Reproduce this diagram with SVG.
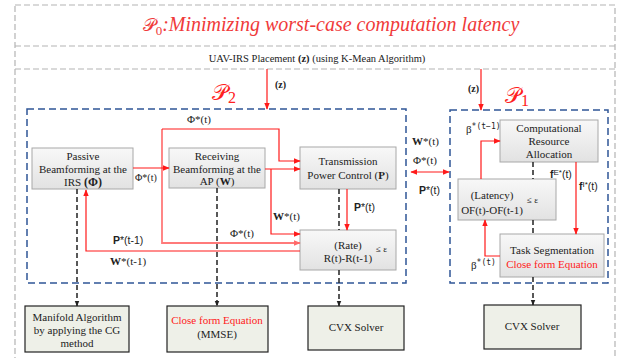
<svg xmlns="http://www.w3.org/2000/svg" width="621" height="358" viewBox="0 0 621 358" font-family="Liberation Serif, DejaVu Serif, serif">
<defs>
<linearGradient id="g" x1="0" y1="0" x2="0" y2="1"><stop offset="0" stop-color="#f8f8f8"/><stop offset="1" stop-color="#e2e2e2"/></linearGradient>
<marker id="ar" viewBox="0 0 10 10" refX="9" refY="5" markerWidth="7" markerHeight="7" markerUnits="userSpaceOnUse" orient="auto-start-reverse"><path d="M0,1 L10,5 L0,9 z" fill="#ff1a1a"/></marker>
<marker id="ap" viewBox="0 0 10 10" refX="9" refY="5" markerWidth="7" markerHeight="7" markerUnits="userSpaceOnUse" orient="auto"><path d="M0,1 L10,5 L0,9 z" fill="#ff6a6a"/></marker>
<marker id="ab" viewBox="0 0 10 10" refX="9" refY="5" markerWidth="6" markerHeight="6" markerUnits="userSpaceOnUse" orient="auto"><path d="M0,1 L10,5 L0,9 z" fill="#222"/></marker>
</defs>
<style>
text{font-family:'Liberation Serif','DejaVu Serif',serif;font-size:11px;fill:#222}
.c{text-anchor:middle}
.red{fill:#ff2020}
.sans{font-family:'Liberation Sans',Arial,sans-serif;font-size:10.5px}
.lbl{font-size:11px}
.b{font-weight:bold}
.node{fill:url(#g);stroke:#a8a8a8;stroke-width:1}
.sol{fill:#eef0e8;stroke:#222;stroke-width:1.2}
.gdash{fill:none;stroke:#b4b4b4;stroke-width:1.2;stroke-dasharray:6,3}
.bdash{fill:none;stroke:#2f5597;stroke-width:1.5;stroke-dasharray:7,4}
.rl{fill:none;stroke:#ff1a1a;stroke-width:1.2}
.pl{fill:none;stroke:#ff7a7a;stroke-width:1.8}
.kd{fill:none;stroke:#222;stroke-width:1.5;stroke-dasharray:5,3}
.scr{font-family:'DejaVu Serif',serif;font-style:normal}
</style>
<g id="frame">
<rect class="gdash" x="15" y="5" width="600" height="362"/>
<line class="gdash" x1="15" y1="46" x2="615" y2="46"/>
<line class="gdash" x1="15" y1="69" x2="615" y2="69"/>
<text x="331" y="31" class="c" style="font-size:20px;font-style:italic;fill:#f03a3a"><tspan class="scr" style="font-size:18px">𝒫</tspan><tspan style="font-size:13px;font-style:normal" dy="4">0</tspan><tspan dy="-4">:Minimizing worst-case computation latency</tspan></text>
<text x="317" y="62" class="c" style="font-size:10.5px">UAV-IRS Placement <tspan class="b">(z)</tspan> (using K-Mean Algorithm)</text>
</g>
<g id="P2">
<rect class="bdash" x="27" y="109" width="379" height="174"/>
<text x="212" y="100" class="red" style="font-size:22px"><tspan class="scr">𝒫</tspan><tspan style="font-size:16px" dy="3">2</tspan></text>
</g>
<g id="P1">
<rect class="bdash" x="450" y="110" width="158" height="173"/>
<text x="505" y="103" class="red" style="font-size:22px"><tspan class="scr">𝒫</tspan><tspan style="font-size:16px" dy="3">1</tspan></text>
</g>
<g id="passive">
<rect class="node" x="32" y="148" width="101" height="41"/>
<text x="83" y="160" class="c">Passive</text>
<text x="83" y="173" class="c">Beamforming at the</text>
<text x="83" y="186" class="c">IRS <tspan class="b" style="font-size:12px">(Φ)</tspan></text>
</g>
<g id="receiving">
<rect class="node" x="169" y="148" width="96" height="40"/>
<text x="217" y="160" class="c">Receiving</text>
<text x="217" y="173" class="c">Beamforming at the</text>
<text x="217" y="185" class="c">AP (<tspan class="b">W</tspan>)</text>
</g>
<g id="tpc">
<rect class="node" x="300" y="147" width="96" height="42"/>
<text x="348" y="165" class="c">Transmission</text>
<text x="348" y="179" class="c">Power Control (<tspan class="b">P</tspan>)</text>
</g>
<g id="rate">
<rect class="node" x="300" y="230" width="96" height="40"/>
<text x="348" y="249" class="c">(Rate)</text>
<text x="348" y="262" class="c">R(t)-R(t-1)</text>
<text x="376" y="252" style="font-size:9px">≤ ε</text>
</g>
<g id="comp">
<rect class="node" x="500" y="120" width="98" height="42"/>
<text x="549" y="132" class="c">Computational</text>
<text x="549" y="145" class="c">Resource</text>
<text x="549" y="158" class="c">Allocation</text>
</g>
<g id="latency">
<rect class="node" x="458" y="179" width="98" height="41"/>
<text x="492" y="199" class="c">(Latency)</text>
<text x="492" y="214" class="c">OF(t)-OF(t-1)</text>
<text x="527" y="203" style="font-size:9px">≤  ε</text>
</g>
<g id="taskseg">
<rect class="node" x="500" y="234" width="104" height="43"/>
<text x="552" y="254" class="c">Task Segmentation</text>
<text x="552" y="268" class="c red">Close form Equation</text>
</g>
<g id="manifold">
<rect class="sol" x="25" y="306" width="104" height="46"/>
<text x="77" y="321" class="c">Manifold Algorithm</text>
<text x="77" y="334" class="c">by applying the CG</text>
<text x="77" y="347" class="c">method</text>
</g>
<g id="closeform">
<rect class="sol" x="167" y="306" width="101" height="46"/>
<text x="217" y="324" class="c red">Close form Equation</text>
<text x="217" y="338" class="c">(MMSE)</text>
</g>
<g id="cvx1">
<rect class="sol" x="308" y="306" width="96" height="44"/>
<text x="356" y="331" class="c">CVX Solver</text>
</g>
<g id="cvx2">
<rect class="sol" x="484" y="305" width="97" height="44"/>
<text x="532" y="330" class="c">CVX Solver</text>
</g>
<g id="connectors">
<line class="rl" x1="267" y1="69" x2="267" y2="109" marker-end="url(#ar)"/>
<line class="rl" x1="481" y1="69" x2="481" y2="110" marker-end="url(#ar)"/>
<line class="kd" x1="77" y1="189" x2="77" y2="306" marker-end="url(#ab)"/>
<line class="kd" x1="217" y1="188" x2="217" y2="306" marker-end="url(#ab)"/>
<line class="kd" x1="339" y1="189" x2="339" y2="230"/>
<line class="kd" x1="339" y1="270" x2="339" y2="306" marker-end="url(#ab)"/>
<line class="kd" x1="533" y1="162" x2="533" y2="179"/>
<line class="kd" x1="533" y1="220" x2="533" y2="234"/>
<line class="kd" x1="533" y1="277" x2="533" y2="305" marker-end="url(#ab)"/>
<polyline class="pl" points="162,129 162,243 300,243" marker-end="url(#ap)"/>
<polyline class="rl" points="162,129 279,129 279,161 300,161" marker-end="url(#ar)"/>
<line class="rl" x1="133" y1="168" x2="169" y2="168" marker-end="url(#ar)"/>
<line class="rl" x1="265" y1="169" x2="300" y2="169" marker-end="url(#ar)"/>
<polyline class="rl" points="271,169 271,234 300,234" marker-end="url(#ar)"/>
<line class="rl" x1="347" y1="189" x2="347" y2="230" marker-end="url(#ar)"/>
<polyline class="rl" points="300,251 86,251 86,190" marker-end="url(#ar)"/>
<line class="rl" x1="411" y1="172" x2="449" y2="172" marker-start="url(#ar)" marker-end="url(#ar)"/>
<polyline class="rl" points="481,179 481,141 500,141" marker-end="url(#ar)"/>
<line class="rl" x1="576" y1="162" x2="576" y2="234" marker-end="url(#ar)"/>
<polyline class="rl" points="500,256 485,256 485,220" marker-end="url(#ar)"/>
<text x="275" y="88" class="b" style="font-size:10px">(z)</text>
<text x="468" y="92" class="b" style="font-size:10px">(z)</text>
<text x="187" y="123" class="lbl">Φ*(t)</text>
<text x="135" y="181" class="lbl" style="font-size:10px">Φ*(t)</text>
<text x="273" y="220" class="lbl"><tspan class="b">W</tspan>*(t)</text>
<text x="354" y="211" class="sans"><tspan class="b">P</tspan>*(t)</text>
<text x="230" y="237" class="lbl">Φ*(t)</text>
<text x="113" y="244" class="sans"><tspan class="b">P</tspan>*(t-1)</text>
<text x="110" y="265" class="lbl"><tspan class="b">W</tspan>*(t-1)</text>
<text x="412" y="145" class="lbl"><tspan class="b">W</tspan>*(t)</text>
<text x="413" y="164" class="lbl">Φ*(t)</text>
<text x="419" y="194" class="sans"><tspan class="b">P</tspan>*(t)</text>
<text x="466" y="133" class="lbl">β<tspan style="font-family:'DejaVu Sans Mono',monospace;font-size:8px" dy="-4">*(t−1)</tspan></text>
<text x="550" y="178" class="sans"><tspan class="b">f</tspan><tspan style="font-size:8px" dy="-3">E*</tspan><tspan dy="3">(t)</tspan></text>
<text x="579" y="190" class="sans"><tspan class="b">f</tspan><tspan style="font-size:8px" dy="-3">I*</tspan><tspan dy="3">(t)</tspan></text>
<text x="471" y="269" class="lbl">β<tspan style="font-family:'DejaVu Sans Mono',monospace;font-size:8px" dy="-4">*(t)</tspan></text>
</g>
</svg>
